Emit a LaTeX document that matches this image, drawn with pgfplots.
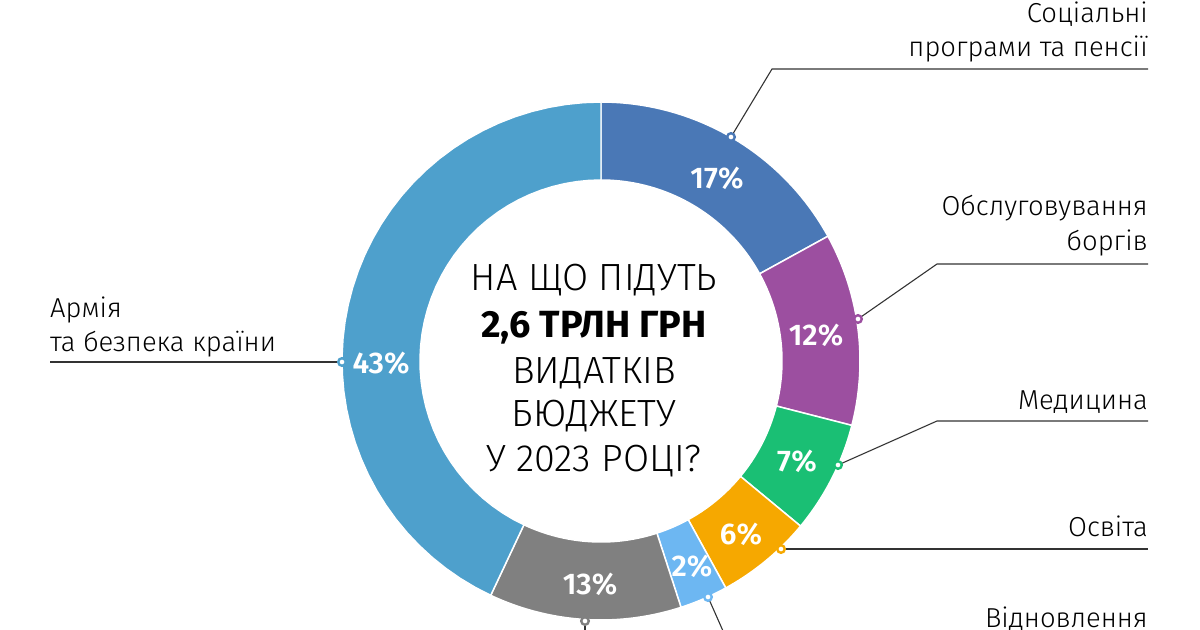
\documentclass[border=0pt]{standalone}
\usepackage{fontspec}
\setmainfont{Fira Sans}[UprightFont=* Light, BoldFont=* SemiBold]
\newfontfamily\heavy{Fira Sans}[UprightFont=* Bold]
\usepackage{pgfplots}
\pgfplotsset{compat=1.18}
\definecolor{social}{HTML}{4A78B6}
\definecolor{debt}{HTML}{9C4FA0}
\definecolor{med}{HTML}{1ABF74}
\definecolor{edu}{HTML}{F6A800}
\definecolor{rest}{HTML}{6DB7F2}
\definecolor{other}{HTML}{808080}
\definecolor{army}{HTML}{4EA0CC}
\definecolor{lead}{HTML}{333333}
% segment: start (cumulative %), value (%), colour
\newcommand\seg[3]{\addplot[fill=#3, draw=white, line width=1.5pt, samples at={0,...,81}, variable=\t]
  ({601+rr(\t)*cos(ang(\t,#1,#2))},{-361+rr(\t)*sin(ang(\t,#1,#2))}) -- cycle;}
\newcommand\pct[3]{\node[text=white, font=\fontsize{30}{32}\selectfont\bfseries, inner sep=0pt] at (axis cs:#1,-#2) {#3};}
\newcommand\leaddot[3]{\addplot[only marks, mark=*, mark size=3.8pt, mark options={fill=white, draw=#3, line width=2.4pt}] coordinates {(#1,-#2)};}
\newcommand\rlab[2]{\node[anchor=base east, inner sep=0pt, font=\fontsize{27.5}{30}\selectfont] at (axis cs:1148,-#1) {#2};}
\newcommand\clab[2]{\node[anchor=base, inner sep=0pt, font=\fontsize{38}{40}\selectfont] at (axis cs:594,-#1) {#2};}
\begin{document}
\begin{tikzpicture}
\begin{axis}[width=1200bp, height=630bp, scale only axis, xmin=0, xmax=1200, ymin=-630, ymax=0,
  hide axis, clip=false,
  declare function={ang(\t,\s,\v)=90-3.6*(\s+\v*((\t<40.5) ? \t/40 : (81-\t)/40)); rr(\t)=(\t<40.5) ? 259 : 181;}]
\seg{0}{17}{social}
\seg{17}{12}{debt}
\seg{29}{7}{med}
\seg{36}{6}{edu}
\seg{42}{3}{rest}
\seg{45}{12}{other}
\seg{57}{43}{army}
% leader lines
\draw[lead, line width=1.1pt] (axis cs:731,-137) -- (axis cs:772,-69) -- (axis cs:1148,-69);
\draw[lead, line width=1.1pt] (axis cs:858,-319) -- (axis cs:937,-264) -- (axis cs:1148,-264);
\draw[lead, line width=1.1pt] (axis cs:838,-465) -- (axis cs:937,-421) -- (axis cs:1148,-421);
\draw[lead, line width=1.1pt] (axis cs:781,-549) -- (axis cs:1148,-549);
\draw[lead, line width=1.1pt] (axis cs:708,-597) -- (axis cs:727,-640);
\draw[lead, line width=1.1pt] (axis cs:585,-621) -- (axis cs:585,-640);
\draw[lead, line width=1.1pt] (axis cs:342,-362) -- (axis cs:50,-362);
\leaddot{731}{137}{social}
\leaddot{858}{319}{debt}
\leaddot{838}{465}{med}
\leaddot{781}{549}{edu}
\leaddot{708}{597}{rest}
\leaddot{585}{621}{other}
\leaddot{342}{362}{army}
% percentages
\pct{717}{178}{17\%}
\pct{816}{335}{12\%}
\pct{797}{461}{7\%}
\pct{741}{534}{6\%}
\pct{692}{566}{2\%}
\pct{590}{584}{13\%}
\pct{381}{363}{43\%}
% labels
\rlab{23}{Соціальні}
\rlab{57}{програми та пенсії}
\rlab{216}{Обслуговування}
\rlab{251}{боргів}
\rlab{410}{Медицина}
\rlab{537}{Освіта}
\rlab{628}{Відновлення}
\node[anchor=base west, inner sep=0pt, font=\fontsize{27.5}{30}\selectfont] at (axis cs:50,-318) {Армія};
\node[anchor=base west, inner sep=0pt, font=\fontsize{27.5}{30}\selectfont] at (axis cs:50,-352) {та безпека країни};
% centre
\clab{291}{НА ЩО ПІДУТЬ}
\clab{338}{\heavy 2,6 ТРЛН ГРН}
\clab{384}{ВИДАТКІВ}
\clab{427}{БЮДЖЕТУ}
\clab{472}{У 2023 РОЦІ?}
\end{axis}
\pgfresetboundingbox
\path[use as bounding box] (0,0) rectangle (1200bp,630bp);
\end{tikzpicture}
\end{document}
